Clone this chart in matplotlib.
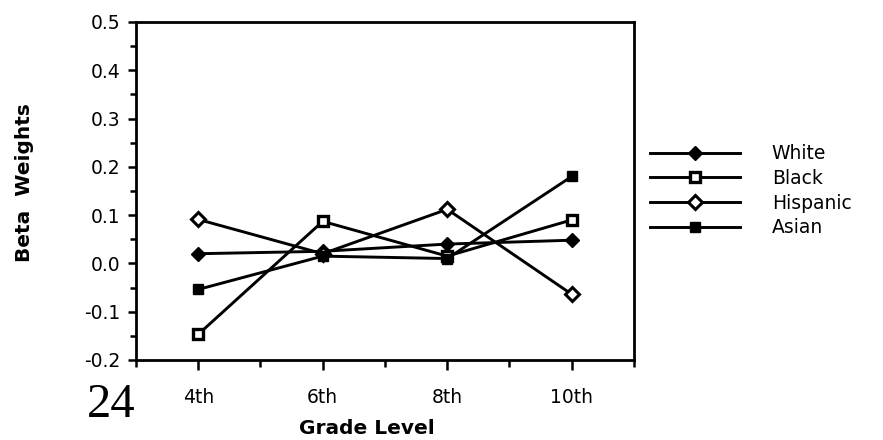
import matplotlib
matplotlib.use('Agg')
import matplotlib.pyplot as plt
from matplotlib.ticker import MultipleLocator

# grade levels and beta weights
grades = [4, 6, 8, 10]
grade_labels = ['4th', '6th', '8th', '10th']
white = [0.02, 0.025, 0.04, 0.048]
black = [-0.147, 0.087, 0.015, 0.09]
hispanic = [0.091, 0.02, 0.112, -0.064]
asian = [-0.054, 0.015, 0.01, 0.18]

plt.rcParams['font.family'] = ['DejaVu Sans']

fig = plt.figure(figsize=(8.83, 4.4), dpi=100)
ax = fig.add_axes([0.154, 0.182, 0.564, 0.768])

lw = 2.1
ax.plot(grades, white, color='black', lw=lw, marker='D', ms=7,
        mfc='black', mec='black', label='White')
ax.plot(grades, black, color='black', lw=lw, marker='s', ms=7.5,
        mfc='white', mec='black', mew=2.4, label='Black')
ax.plot(grades, hispanic, color='black', lw=lw, marker='D', ms=7,
        mfc='white', mec='black', mew=2.2, label='Hispanic')
ax.plot(grades, asian, color='black', lw=lw, marker='s', ms=7.5,
        mfc='black', mec='black', label='Asian')

ax.set_xlim(3, 11)
ax.set_ylim(-0.2, 0.5)
ax.set_xticks(grades)
ax.set_xticklabels(grade_labels)
ax.xaxis.set_minor_locator(MultipleLocator(1))
ax.yaxis.set_major_locator(MultipleLocator(0.1))
ax.yaxis.set_minor_locator(MultipleLocator(0.05))
ax.set_yticklabels([f'{v:.1f}' for v in ax.get_yticks()])

for s in ax.spines.values():
    s.set_linewidth(2.0)
ax.tick_params(which='both', direction='out', width=1.8, labelsize=13.5)
ax.tick_params(axis='x', which='major', length=7, pad=13)
ax.tick_params(axis='x', which='minor', length=5)
ax.tick_params(axis='y', which='major', length=6, pad=5)
ax.tick_params(axis='y', which='minor', length=4)

fig.text(0.028, 0.584, 'Beta  Weights', rotation=90, fontsize=14.5,
         fontweight='bold', ha='center', va='center')
fig.text(0.416, 0.027, 'Grade Level', fontsize=14.5, fontweight='bold',
         ha='center', va='center')
# page number from the scanned report
fig.text(0.126, 0.08, '24', fontsize=35, family='Liberation Serif',
         ha='center', va='center')

ax.legend(loc='upper left', bbox_to_anchor=(0.736, 0.672),
          bbox_transform=fig.transFigure, frameon=False, fontsize=13.5,
          handlelength=4.8, handletextpad=1.7, labelspacing=0.3,
          borderpad=0, borderaxespad=0)

fig.savefig('out.png', dpi=100)
